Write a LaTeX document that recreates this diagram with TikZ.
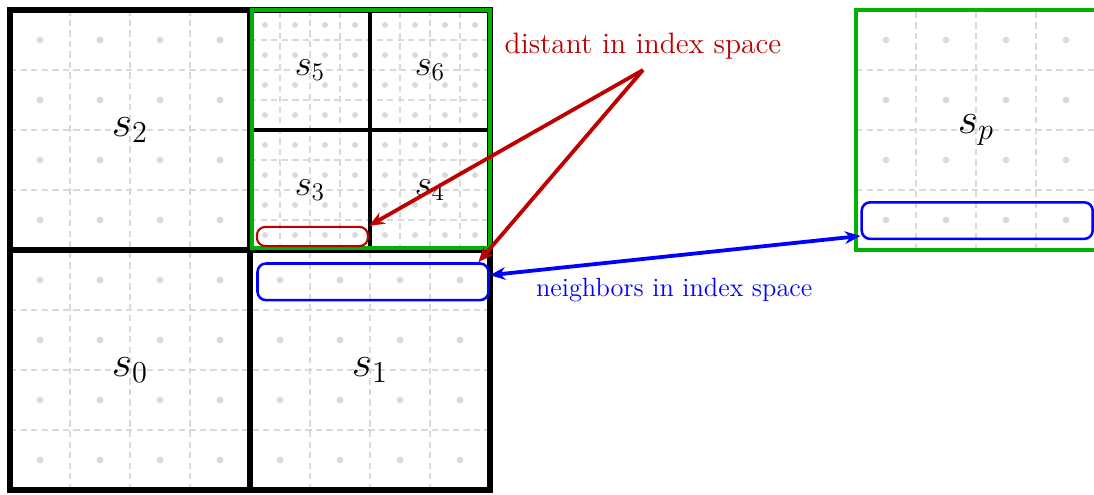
\documentclass[tikz,border=0pt]{standalone}
\usepackage{amsmath,amssymb}
\usetikzlibrary{arrows.meta}

\begin{document}
\begin{tikzpicture}[every node/.style={font=\large}, >={Stealth[length=2.6mm, width=2.1mm]},
	gridline/.style={gray!30, line width=0.9pt, dash pattern=on 3pt off 2pt},
	gpt/.style={fill=gray!30},
	blk/.style={line width=2.5pt},
	subblk/.style={line width=1.6pt},
	grp/.style={green!70!black, line width=2pt},
	lbl/.style={font=\huge},
	sublbl/.style={font=\LARGE},
	nbbox/.style={draw=blue, line width=1.2pt, rounded corners=4pt, minimum width=3.85cm, minimum height=0.61cm, inner sep=0pt},
	dsbox/.style={draw=red!75!black, line width=1pt, rounded corners=4pt, minimum width=1.85cm, minimum height=0.32cm, inner sep=0pt}]
	\useasboundingbox (-0.1667,-0.0667) rectangle (18.0667,8.1667);
	\begin{scope}
		\foreach \k in {1,2,3,5,6,7} {\draw[gridline] (\k,0) -- (\k,8); \draw[gridline] (0,\k) -- (8,\k);}
		\foreach \k in {4.5,5.5,6.5,7.5} {\draw[gridline] (\k,4) -- (\k,8); \draw[gridline] (4,\k) -- (8,\k);}
		\foreach \x in {0.5,1.5,...,7.5} \foreach \y in {0.5,1.5,2.5,3.5} \fill[gpt] (\x,\y) circle (1.6pt);
		\foreach \x in {0.5,1.5,2.5,3.5} \foreach \y in {4.5,5.5,6.5,7.5} \fill[gpt] (\x,\y) circle (1.6pt);
		\foreach \x in {4.25,4.75,...,7.75} \foreach \y in {4.25,4.75,...,7.75} \fill[gpt] (\x,\y) circle (1.4pt);
		\draw[blk] (0,0) rectangle (8,8); \draw[blk] (4,0) -- (4,8); \draw[blk] (0,4) -- (8,4);
		\draw[subblk] (6,4) -- (6,8); \draw[subblk] (4,6) -- (8,6);
		\draw[grp] (4.03,4.03) rectangle (8,8);
		\node[lbl] (s0) at (2,2) {$s_0$}; \node[lbl] (s1) at (6,2) {$s_1$}; \node[lbl] (s2) at (2,6) {$s_2$};
		\node[sublbl] (s3) at (5,5) {$s_3$}; \node[sublbl] (s4) at (7,5) {$s_4$};
		\node[sublbl] (s5) at (5,7) {$s_5$}; \node[sublbl] (s6) at (7,7) {$s_6$};
		\node[dsbox] (ds) at (5.04,4.225) {};
		\node[nbbox] (nb1) at (6.05,3.47) {};
	\end{scope}
	\begin{scope}[xshift=14.1cm, yshift=4cm]
		\foreach \k in {1,2,3} {\draw[gridline] (\k,0) -- (\k,4); \draw[gridline] (0,\k) -- (4,\k);}
		\foreach \x in {0.5,1.5,2.5,3.5} \foreach \y in {0.5,1.5,2.5,3.5} \fill[gpt] (\x,\y) circle (1.6pt);
		\draw[grp] (0,0) rectangle (4,4);
		\node[lbl] (sp) at (2,2) {$s_p$};
		\node[nbbox] (nb2) at (2.02,0.49) {};
	\end{scope}
	\node[red!75!black, anchor=south, inner sep=5pt, font=\fontsize{14}{17}\selectfont] (dist) at (10.55,7) {distant in index space};
	\node[blue, font=\fontsize{12.5}{15}\selectfont] (neigh) at (11.07,3.33) {neighbors in index space};
	\draw[->, red!75!black, line width=1.8pt] (dist.south) -- (ds.north east);
	\draw[->, red!75!black, line width=1.8pt] (dist.south) -- ([xshift=-1.9mm]nb1.north east);
	\draw[<->, blue, line width=1.8pt] ([yshift=1.1mm]nb1.east) -- ([yshift=0.7mm]nb2.south west);
\end{tikzpicture}
\end{document}
